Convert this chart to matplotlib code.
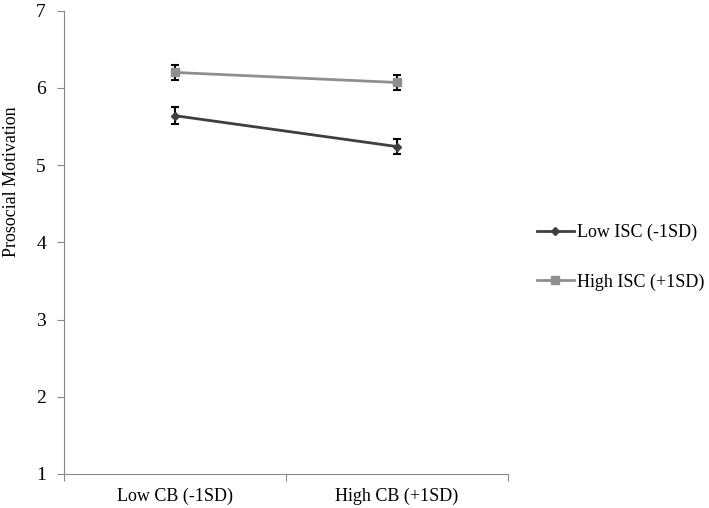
import numpy as np
import matplotlib.pyplot as plt

categories = ["Low CB (-1SD)", "High CB (+1SD)"]
low_isc = [5.64, 5.24]
low_err = [0.11, 0.10]
high_isc = [6.20, 6.07]
high_err = [0.10, 0.10]

plt.rcParams['font.family'] = ['Liberation Serif', 'DejaVu Serif']

fig = plt.figure(figsize=(7.09, 5.08), dpi=100)
ax = fig.add_axes([0.0903, 0.067, 0.626, 0.912])

x = np.arange(len(categories))
ax.errorbar(x, low_isc, yerr=low_err, color='#3f3f3f', marker='D', markersize=4,
            linewidth=2, ecolor='black', elinewidth=1.5, capsize=3, capthick=1.5,
            label='Low ISC (-1SD)')
ax.errorbar(x, high_isc, yerr=high_err, color='#8e8e8e', marker='s', markersize=6,
            linewidth=2, ecolor='black', elinewidth=1.5, capsize=3, capthick=1.5,
            label='High ISC (+1SD)')

ax.set_xlim(-0.5, 1.5)
ax.set_ylim(1, 7)
ax.set_yticks(range(1, 8))
ax.set_xticks([-0.5, 0.5, 1.5])
ax.set_xticklabels([])
ax.set_xticks(x, minor=True)
ax.set_xticklabels(categories, minor=True, fontsize=13)
ax.tick_params(axis='x', which='minor', length=0, pad=10)
ax.tick_params(axis='x', which='major', length=5, color='#888888')
ax.tick_params(axis='y', length=5, color='#888888', labelsize=14, pad=8)

for s in ['top', 'right']:
    ax.spines[s].set_visible(False)
for s in ['left', 'bottom']:
    ax.spines[s].set_color('#888888')

ax.set_ylabel('Prosocial Motivation', fontsize=13)
ax.yaxis.set_label_coords(-0.1, 0.63)

handles, labels = ax.get_legend_handles_labels()
handles = [h[0] for h in handles]
ax.legend(handles, labels, loc='center left', bbox_to_anchor=(1.03, 0.468),
          frameon=False, fontsize=13, labelspacing=1.8, handlelength=2,
          handletextpad=0.2)

fig.savefig('out.png', dpi=100)
